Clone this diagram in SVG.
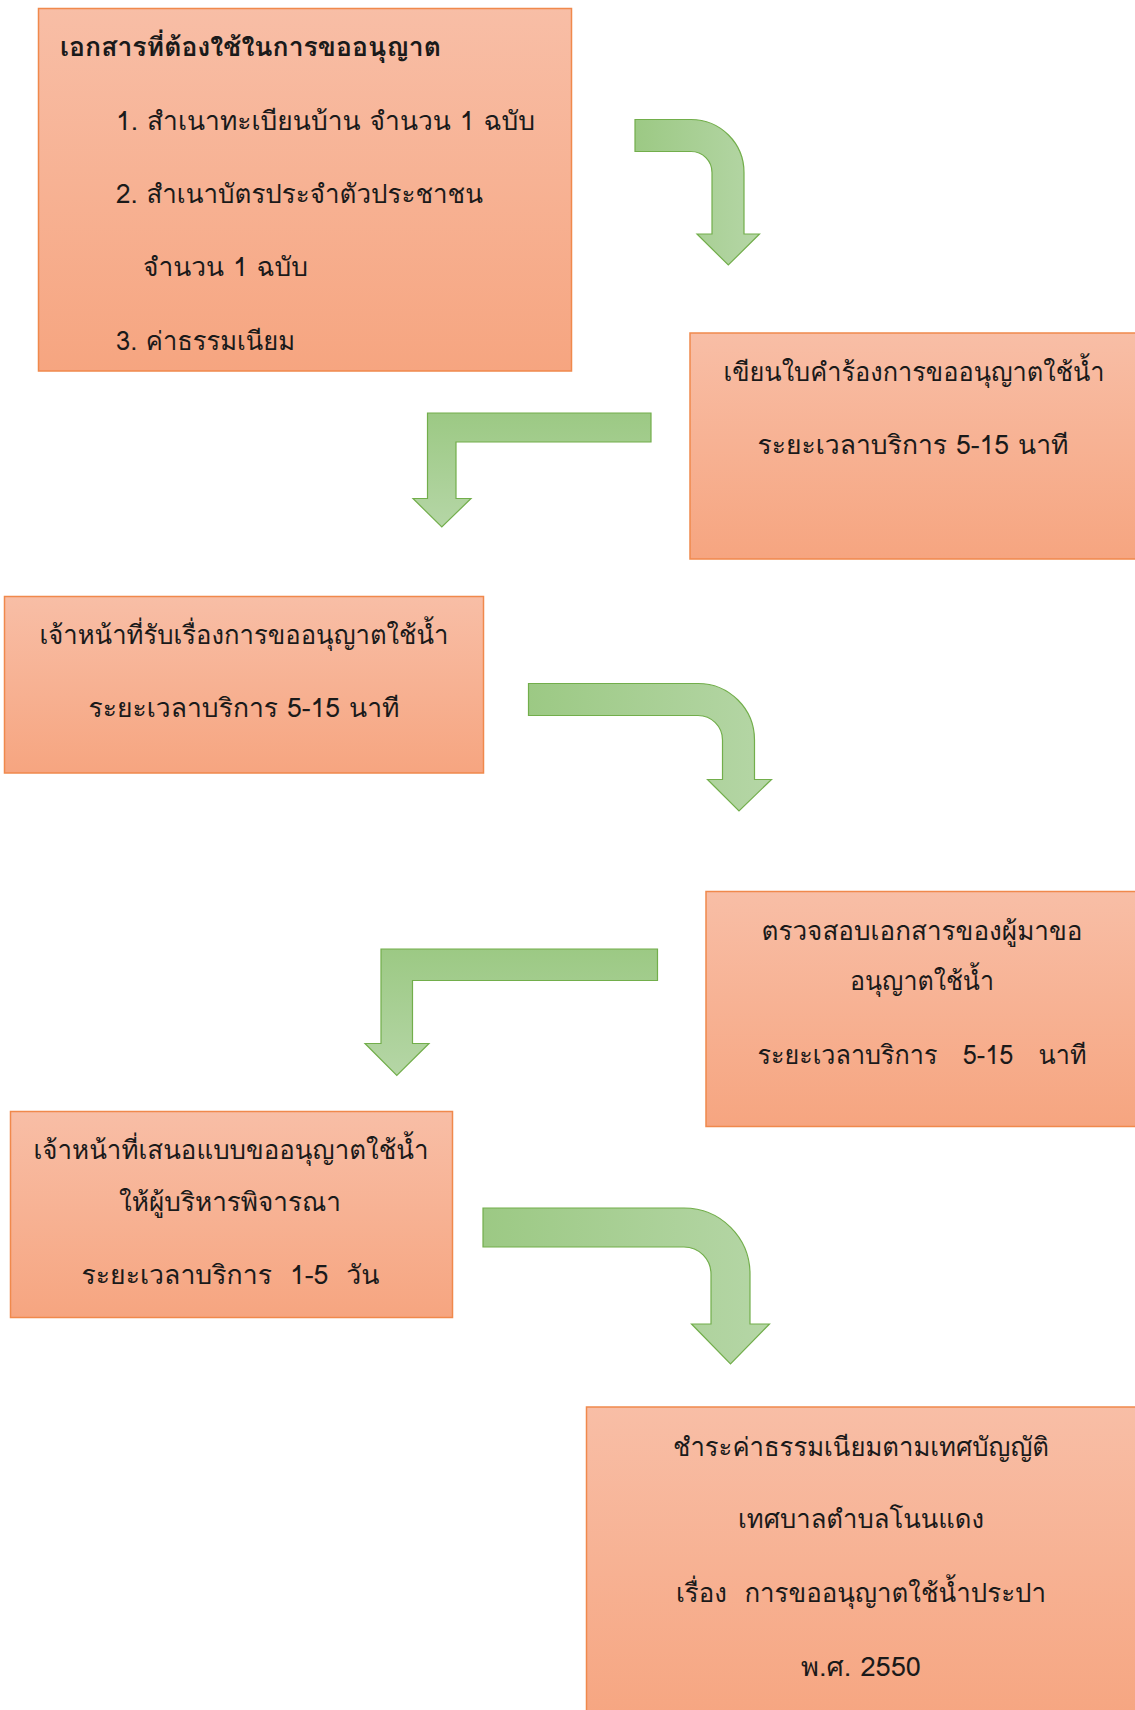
<svg xmlns="http://www.w3.org/2000/svg" width="1135" height="1710" viewBox="0 0 1135 1710">
<defs>
<linearGradient id="boxFill" x1="0" y1="0" x2="0" y2="1">
<stop offset="0" stop-color="#f8bea6"/>
<stop offset="1" stop-color="#f6a580"/>
</linearGradient>
<linearGradient id="arrowH" x1="0" y1="0" x2="1" y2="0">
<stop offset="0" stop-color="#9cc984"/>
<stop offset="1" stop-color="#b5d6a6"/>
</linearGradient>
<linearGradient id="arrowV" x1="0" y1="0" x2="0" y2="1">
<stop offset="0" stop-color="#9cc984"/>
<stop offset="1" stop-color="#b5d6a6"/>
</linearGradient>
</defs>
<style>
.box{fill:url(#boxFill);stroke:#f0894c;stroke-width:1.5}
.t{font-family:"Tahoma","Leelawadee UI","Loma","Garuda","Noto Sans Thai","Noto Sans","DejaVu Sans",sans-serif;font-size:26px;fill:#1a1a1a}
.c{text-anchor:middle}
.b{font-weight:bold}
.arr{stroke:#72ae4b;stroke-width:1.2;stroke-linejoin:miter}
</style>
<rect width="1135" height="1710" fill="#ffffff"/>
<g id="connectors">
<path class="arr" fill="url(#arrowH)" d="M635,119.5 H691 A53,53 0 0 1 744,172.5 V234 H759.5 L728.3,265 L697,234 H712 V172.5 A21,21 0 0 0 691,151.5 H635 Z"/>
<path class="arr" fill="url(#arrowV)" d="M651,413 H427.5 V498.5 H413 L441.8,527 L471,498.5 H456 V442 H651 Z"/>
<path class="arr" fill="url(#arrowH)" d="M528.5,683.5 H698 A56.5,56.5 0 0 1 754.5,740 V779.5 H771.5 L739,811 L707.5,779.5 H722.5 V740 A24.5,24.5 0 0 0 698,715.5 H528.5 Z"/>
<path class="arr" fill="url(#arrowV)" d="M657.5,949 H381 V1043.5 H365 L396.8,1075.5 L429,1043.5 H412.5 V980.5 H657.5 Z"/>
<path class="arr" fill="url(#arrowH)" d="M483,1208 H684 A66,66 0 0 1 750,1274 V1324 H769.5 L730.5,1364 L691.5,1324 H711 V1274 A27,27 0 0 0 684,1247 H483 Z"/>
</g>
<g id="node-documents">
<rect class="box" x="38.5" y="8.5" width="533" height="362.5"/>
<text class="t b" x="60" y="56" textLength="381" lengthAdjust="spacingAndGlyphs">เอกสารที่ต้องใช้ในการขออนุญาต</text>
<text class="t" x="116" y="130" textLength="419" lengthAdjust="spacingAndGlyphs">1. สำเนาทะเบียนบ้าน จำนวน 1 ฉบับ</text>
<text class="t" x="116" y="203" textLength="367" lengthAdjust="spacingAndGlyphs">2. สำเนาบัตรประจำตัวประชาชน</text>
<text class="t" x="143" y="276" textLength="165" lengthAdjust="spacingAndGlyphs">จำนวน 1 ฉบับ</text>
<text class="t" x="116" y="350" textLength="179" lengthAdjust="spacingAndGlyphs">3. ค่าธรรมเนียม</text>
</g>
<g id="node-write-request">
<rect class="box" x="690" y="333" width="448" height="226"/>
<text class="t c" x="914" y="381" textLength="381" lengthAdjust="spacingAndGlyphs">เขียนใบคำร้องการขออนุญาตใช้น้ำ</text>
<text class="t c" x="913" y="454" textLength="311" lengthAdjust="spacingAndGlyphs">ระยะเวลาบริการ 5-15 นาที</text>
</g>
<g id="node-receive">
<rect class="box" x="4.5" y="596.5" width="479" height="176.5"/>
<text class="t c" x="244" y="644" textLength="409" lengthAdjust="spacingAndGlyphs">เจ้าหน้าที่รับเรื่องการขออนุญาตใช้น้ำ</text>
<text class="t c" x="244" y="717" textLength="311" lengthAdjust="spacingAndGlyphs">ระยะเวลาบริการ 5-15 นาที</text>
</g>
<g id="node-check">
<rect class="box" x="706" y="891.5" width="432" height="235"/>
<text class="t c" x="922" y="940" textLength="321" lengthAdjust="spacingAndGlyphs">ตรวจสอบเอกสารของผู้มาขอ</text>
<text class="t c" x="922" y="990" textLength="144" lengthAdjust="spacingAndGlyphs">อนุญาตใช้น้ำ</text>
<text class="t c" x="922" y="1064" xml:space="preserve" textLength="329" lengthAdjust="spacingAndGlyphs">ระยะเวลาบริการ   5-15   นาที</text>
</g>
<g id="node-propose">
<rect class="box" x="10.5" y="1111.5" width="442" height="206"/>
<text class="t c" x="231" y="1159" textLength="395" lengthAdjust="spacingAndGlyphs">เจ้าหน้าที่เสนอแบบขออนุญาตใช้น้ำ</text>
<text class="t c" x="230" y="1211" textLength="222" lengthAdjust="spacingAndGlyphs">ให้ผู้บริหารพิจารณา</text>
<text class="t c" x="230.5" y="1284" xml:space="preserve" textLength="298" lengthAdjust="spacingAndGlyphs">ระยะเวลาบริการ  1-5  วัน</text>
</g>
<g id="node-pay">
<rect class="box" x="586.5" y="1407" width="560" height="320"/>
<text class="t c" x="861" y="1456" textLength="376" lengthAdjust="spacingAndGlyphs">ชำระค่าธรรมเนียมตามเทศบัญญัติ</text>
<text class="t c" x="861" y="1528" textLength="246" lengthAdjust="spacingAndGlyphs">เทศบาลตำบลโนนแดง</text>
<text class="t c" x="861" y="1602" xml:space="preserve" textLength="370" lengthAdjust="spacingAndGlyphs">เรื่อง  การขออนุญาตใช้น้ำประปา</text>
<text class="t c" x="861" y="1676" textLength="120" lengthAdjust="spacingAndGlyphs">พ.ศ. 2550</text>
</g>
</svg>
